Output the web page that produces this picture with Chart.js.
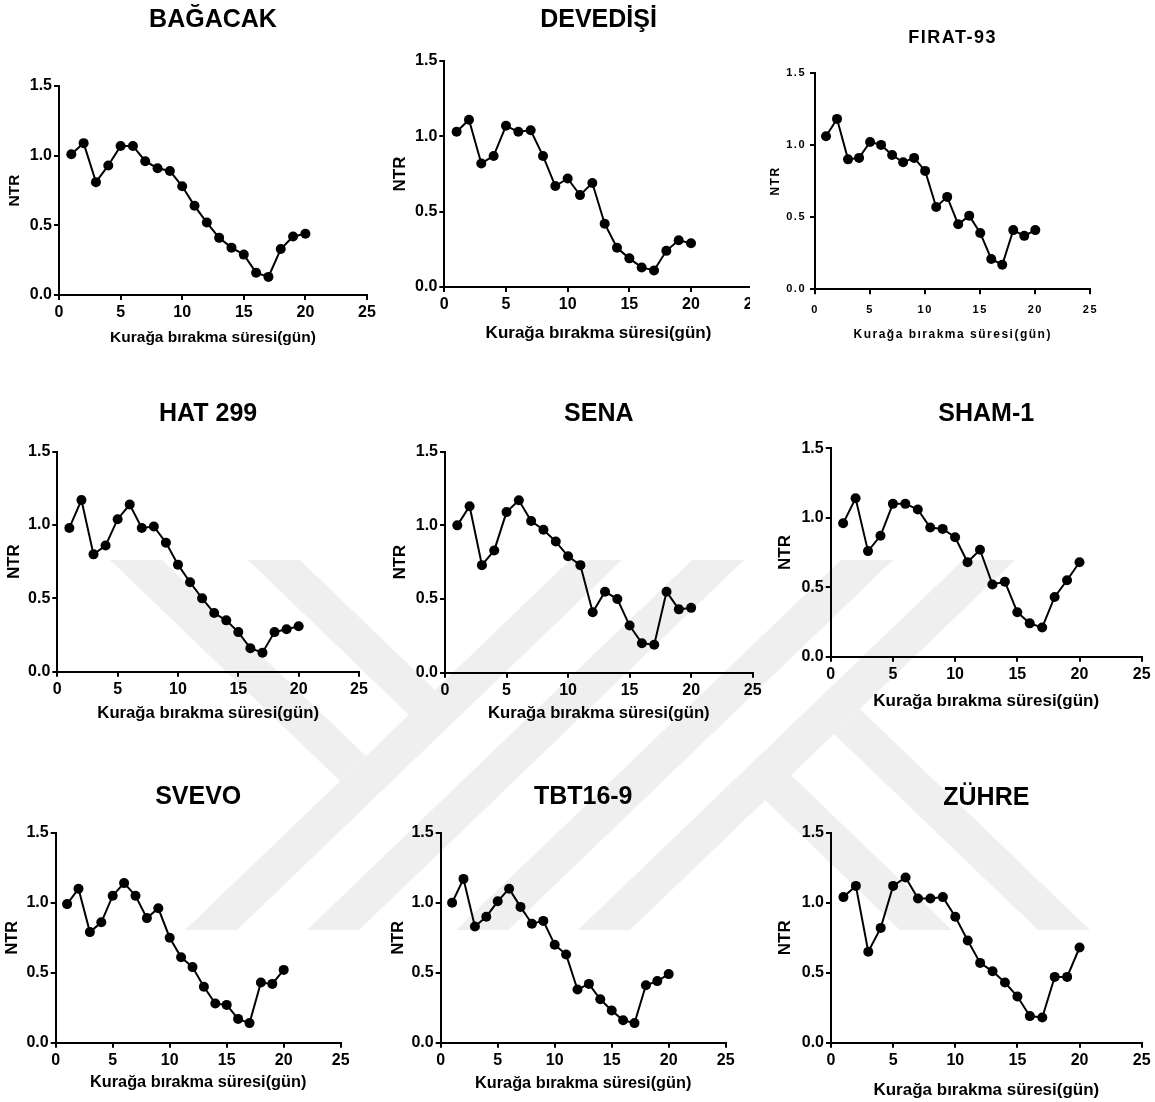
<!DOCTYPE html>
<html>
<head>
<meta charset="utf-8">
<script src="https://cdn.jsdelivr.net/npm/chart.js@4.4.0/dist/chart.umd.min.js"></script>
<style>
  body { margin: 0; background: #fff; width: 1155px; height: 1102px; position: relative; overflow: hidden; }
  #mark { position: absolute; left: 0; top: 0; }
  .box { position: absolute; overflow: hidden; }
  .box canvas { position: absolute; left: 0; top: 0; }
</style>
</head>
<body>
<!-- faint page watermark behind the plots -->
<svg id="mark" width="1155" height="1102">
  <g fill="#efefef">
    <polygon points="570,560 622,560 237,930 185,930"/>
    <polygon points="692,560 744,560 359,930 307,930"/>
    <polygon points="841,560 893,560 508,930 456,930"/>
    <polygon points="963,560 1015,560 630,930 578,930"/>
    <polygon points="110,560 162,560 366,756 340,781"/>
    <polygon points="248,560 300,560 435,690 409,715"/>
    <polygon points="1090,930 1038,930 834,734 860,709"/>
    <polygon points="952,930 900,930 765,800 791,775"/>
  </g>
</svg>
<script>
// drought days
const days = [1, 2, 3, 4, 5, 6, 7, 8, 9, 10, 11, 12, 13, 14, 15, 16, 17, 18, 19, 20];
const xTicks = [0, 5, 10, 15, 20, 25];
const yTicks = [0, 0.5, 1.0, 1.5];
const xLabel = "Kurağa bırakma süresi(gün)";
const yLabel = "NTR";
const titles = ["BAĞACAK", "DEVEDİŞİ", "FIRAT-93", "HAT 299", "SENA", "SHAM-1", "SVEVO", "TBT16-9", "ZÜHRE"];

// NTR values per cultivar
const bagacak  = [1.01, 1.09, 0.81, 0.93, 1.07, 1.07, 0.96, 0.91, 0.89, 0.78, 0.64, 0.52, 0.41, 0.34, 0.29, 0.16, 0.13, 0.33, 0.42, 0.44];
const devedisi = [1.03, 1.11, 0.82, 0.87, 1.07, 1.03, 1.04, 0.87, 0.67, 0.72, 0.61, 0.69, 0.42, 0.26, 0.19, 0.13, 0.11, 0.24, 0.31, 0.29];
const firat93  = [1.06, 1.18, 0.90, 0.91, 1.02, 1.00, 0.93, 0.88, 0.91, 0.82, 0.57, 0.64, 0.45, 0.51, 0.39, 0.21, 0.17, 0.41, 0.37, 0.41];
const hat299   = [0.98, 1.17, 0.80, 0.86, 1.04, 1.14, 0.98, 0.99, 0.88, 0.73, 0.61, 0.50, 0.40, 0.35, 0.27, 0.16, 0.13, 0.27, 0.29, 0.31];
const sena     = [1.00, 1.13, 0.73, 0.83, 1.09, 1.17, 1.03, 0.97, 0.89, 0.79, 0.73, 0.41, 0.55, 0.50, 0.32, 0.20, 0.19, 0.55, 0.43, 0.44];
const sham1    = [0.96, 1.14, 0.76, 0.87, 1.10, 1.10, 1.06, 0.93, 0.92, 0.86, 0.68, 0.77, 0.52, 0.54, 0.32, 0.24, 0.21, 0.43, 0.55, 0.68];
const svevo    = [0.99, 1.10, 0.79, 0.86, 1.05, 1.14, 1.05, 0.89, 0.96, 0.75, 0.61, 0.54, 0.40, 0.28, 0.27, 0.17, 0.14, 0.43, 0.42, 0.52];
const tbt169   = [1.00, 1.17, 0.83, 0.90, 1.01, 1.10, 0.97, 0.85, 0.87, 0.70, 0.63, 0.38, 0.42, 0.31, 0.23, 0.16, 0.14, 0.41, 0.44, 0.49];
const zuhre    = [1.04, 1.12, 0.65, 0.82, 1.12, 1.18, 1.03, 1.03, 1.04, 0.90, 0.73, 0.57, 0.51, 0.43, 0.33, 0.19, 0.18, 0.47, 0.47, 0.68];
const series = [bagacak, devedisi, firat93, hat299, sena, sham1, svevo, tbt169, zuhre];

// where each small plot sits on the page (axis corners, title centre, font sizes)
const panels = [
  { L: 59,    R: 367,    T: 86,    B: 295,    ty: 18,    ts: 25, ks: 16, ls: 15.5, nx: 44,   kx: 43 },
  { L: 444.3, R: 752.7,  T: 61,    B: 287,    ty: 18,    ts: 25, ks: 16, ls: 17,   nx: 44.3, kx: 46, clip: 750 },
  { L: 815,   R: 1093,   T: 72.7,  B: 289.3,  ty: 36,    ts: 18, ks: 11, ls: 12,   nx: 39,   kx: 45.7, sp: 1.5, yp: 4, xp: 9 },
  { L: 57.3,  R: 359,    T: 451.7, B: 671.7,  ty: 411.7, ts: 25, ks: 16, ls: 16.7, nx: 43.3, kx: 41.3 },
  { L: 445,   R: 752.7,  T: 451.7, B: 672.7,  ty: 411.7, ts: 25, ks: 16, ls: 16.7, nx: 45,   kx: 40.6 },
  { L: 830.7, R: 1141.7, T: 448.3, B: 656.7,  ty: 411.7, ts: 25, ks: 16, ls: 17,   nx: 45.7, kx: 45 },
  { L: 55.7,  R: 340.7,  T: 832.7, B: 1042.7, ty: 795,   ts: 25, ks: 16, ls: 16.3, nx: 42.7, kx: 40.3 },
  { L: 440.7, R: 725.7,  T: 832.7, B: 1042.7, ty: 795,   ts: 25, ks: 16, ls: 16.3, nx: 42.4, kx: 40.6 },
  { L: 831,   R: 1141.7, T: 832.7, B: 1042.7, ty: 796,   ts: 25, ks: 16, ls: 17,   nx: 46,   kx: 47.3 },
];

const FONT = "'Liberation Sans', Arial, Helvetica, sans-serif";

// canvas letter spacing (only the FIRAT-93 panel uses it)
const spacing = {
  id: "spacing",
  beforeUpdate(chart, args, opts) { chart.ctx.letterSpacing = (opts.px || 0) + "px"; },
  beforeDraw(chart, args, opts) { chart.ctx.letterSpacing = (opts.px || 0) + "px"; },
};

panels.forEach((p, i) => {
  const left = Math.round(p.L - 58);
  const tLH = p.ts * 1.2;
  const lLH = p.ls * 1.2;
  const top = Math.round(p.ty - tLH / 2);
  const width = Math.round(p.R + 14 - left);
  const height = Math.round(p.B + 62 - top);
  const yW = p.L - left;
  const xH = height - (p.B - top);
  const padR = width - (p.R - left);
  const titlePt = p.ty + 2 - top - tLH / 2;
  const titlePb = p.T - (top + titlePt + tLH);

  const box = document.createElement("div");
  box.className = "box";
  box.style.left = left + "px";
  box.style.top = top + "px";
  box.style.width = (p.clip ? p.clip - left : width) + "px";
  box.style.height = height + "px";
  const cv = document.createElement("canvas");
  cv.width = width;
  cv.height = height;
  box.appendChild(cv);
  document.body.appendChild(box);

  const vals = series[i];
  new Chart(cv, {
    type: "line",
    data: {
      datasets: [{
        data: days.map((d, k) => ({ x: d, y: vals[k] })),
        borderColor: "#000",
        borderWidth: 2,
        pointRadius: 5,
        pointBackgroundColor: "#000",
        pointBorderColor: "#000",
        pointBorderWidth: 0,
        tension: 0,
        fill: false,
      }],
    },
    plugins: [spacing],
    options: {
      responsive: false,
      animation: false,
      devicePixelRatio: 1,
      layout: { padding: { left: 0, top: 0, bottom: 0, right: padR } },
      plugins: {
        legend: { display: false },
        tooltip: { enabled: false },
        spacing: { px: p.sp || 0 },
        title: {
          display: true,
          text: titles[i],
          fullSize: false,
          color: "#000",
          font: { family: FONT, size: p.ts, weight: "bold" },
          padding: { top: titlePt, bottom: titlePb },
        },
      },
      scales: {
        x: {
          type: "linear",
          min: xTicks[0],
          max: xTicks[xTicks.length - 1],
          afterFit(s) { s.height = xH; },
          ticks: {
            stepSize: xTicks[1] - xTicks[0],
            color: "#000",
            font: { family: FONT, size: p.ks, weight: "bold" },
            padding: p.xp || 3,
            maxRotation: 0,
            autoSkip: false,
          },
          grid: { drawOnChartArea: false, drawTicks: true, tickLength: 5, color: "#000", lineWidth: 2 },
          border: { display: true, color: "#000", width: 2 },
          title: {
            display: true,
            text: xLabel,
            color: "#000",
            font: { family: FONT, size: p.ls, weight: "bold" },
            padding: { top: 0, bottom: xH - p.kx - lLH / 2 },
          },
        },
        y: {
          min: yTicks[0],
          max: yTicks[yTicks.length - 1],
          afterFit(s) { s.width = yW; },
          ticks: {
            stepSize: yTicks[1] - yTicks[0],
            color: "#000",
            font: { family: FONT, size: p.ks, weight: "bold" },
            padding: p.yp || 2,
            callback: (v) => Number(v).toFixed(1),
          },
          grid: { drawOnChartArea: false, drawTicks: true, tickLength: 5, color: "#000", lineWidth: 2 },
          border: { display: true, color: "#000", width: 2 },
          title: {
            display: true,
            text: yLabel,
            color: "#000",
            font: { family: FONT, size: p.ls, weight: "bold" },
            padding: { top: Math.max(0, yW - p.nx - lLH / 2), bottom: 0 },
          },
        },
      },
    },
  });
});
</script>
</body>
</html>
